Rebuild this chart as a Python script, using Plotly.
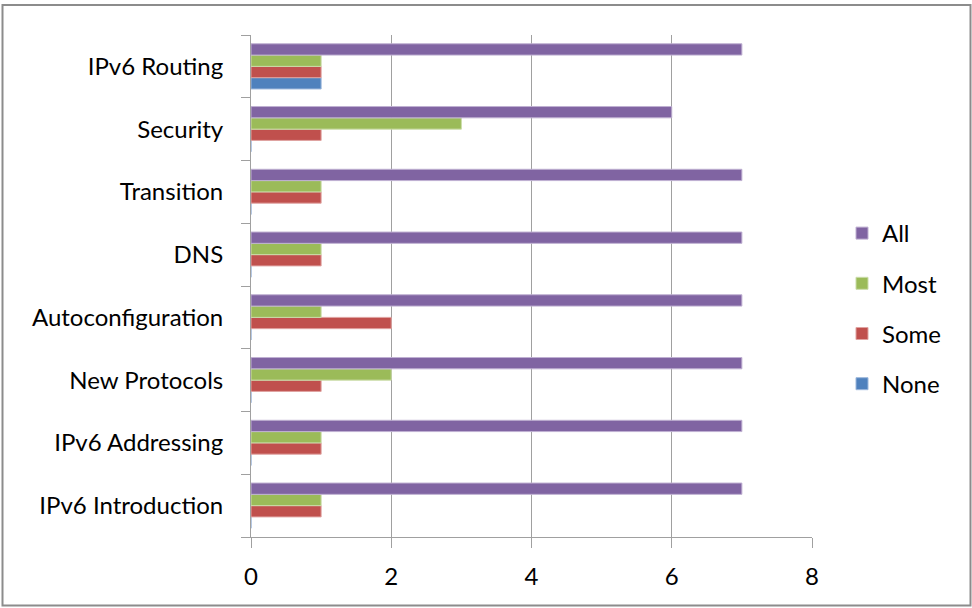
import plotly.graph_objects as go

categories = ["IPv6 Introduction", "IPv6 Addressing", "New Protocols", "Autoconfiguration",
              "DNS", "Transition", "Security", "IPv6 Routing"]
none_vals = [0, 0, 0, 0, 0, 0, 0, 1]
some_vals = [1, 1, 1, 2, 1, 1, 1, 1]
most_vals = [1, 1, 2, 1, 1, 1, 3, 1]
all_vals = [7, 7, 7, 7, 7, 7, 6, 7]

series = [
    ("None", none_vals, "#4F81BD", "#9DB8DC", 4),
    ("Some", some_vals, "#C0504D", "#E0A3A1", 3),
    ("Most", most_vals, "#9BBB59", "#CBDDAA", 2),
    ("All", all_vals, "#8064A2", "#BFB0D2", 1),
]

FONT = "Lato"
FS = 24
fig = go.Figure()
for name, vals, col, edge, rank in series:
    fig.add_trace(go.Bar(
        y=categories, x=vals, name=name, orientation="h",
        marker=dict(color=col, line=dict(color=edge, width=1)),
        legendgroup=name, legendrank=rank,
    ))

W, H = 972, 608
L, R, T, B = 251, 160, 35, 71
pw, ph = W - L - R, H - T - B

def px(x):
    return (x - L) / pw

def py(y):
    return (H - B - y) / ph

fig.add_shape(type="rect", xref="paper", yref="paper",
              x0=px(2.5), x1=px(970.5), y0=py(605.5), y1=py(5),
              line=dict(color="#8c8c8c", width=2), fillcolor="rgba(0,0,0,0)")

fig.update_layout(
    width=W, height=H,
    margin=dict(l=L, r=R, t=T, b=B, pad=0),
    barmode="group", bargap=0.28, bargroupgap=0,
    plot_bgcolor="white", paper_bgcolor="white",
    font=dict(family=FONT, size=FS, color="#000000"),
    showlegend=True,
    legend=dict(traceorder="grouped", tracegroupgap=16,
                x=px(842), y=py(211), xanchor="left", yanchor="top",
                font=dict(family=FONT, size=FS, color="#000000"),
                itemwidth=30, bgcolor="rgba(0,0,0,0)"),
    xaxis=dict(range=[0, 8], dtick=2, tick0=0, showgrid=True, gridcolor="#a0a0a0", gridwidth=1,
               showline=True, linecolor="#a0a0a0", linewidth=1,
               ticks="outside", ticklen=10, tickcolor="#a0a0a0",
               ticklabelstandoff=8, zeroline=False,
               tickfont=dict(family=FONT, size=FS, color="#000000")),
    yaxis=dict(type="category", categoryorder="array", categoryarray=categories,
               showline=True, linecolor="#a0a0a0", linewidth=1, showgrid=False,
               ticks="outside", ticklen=9, tickcolor="#a0a0a0", tickson="boundaries",
               ticklabelstandoff=22,
               tickfont=dict(family=FONT, size=FS, color="#000000")),
)

fig.write_html("out.html")
